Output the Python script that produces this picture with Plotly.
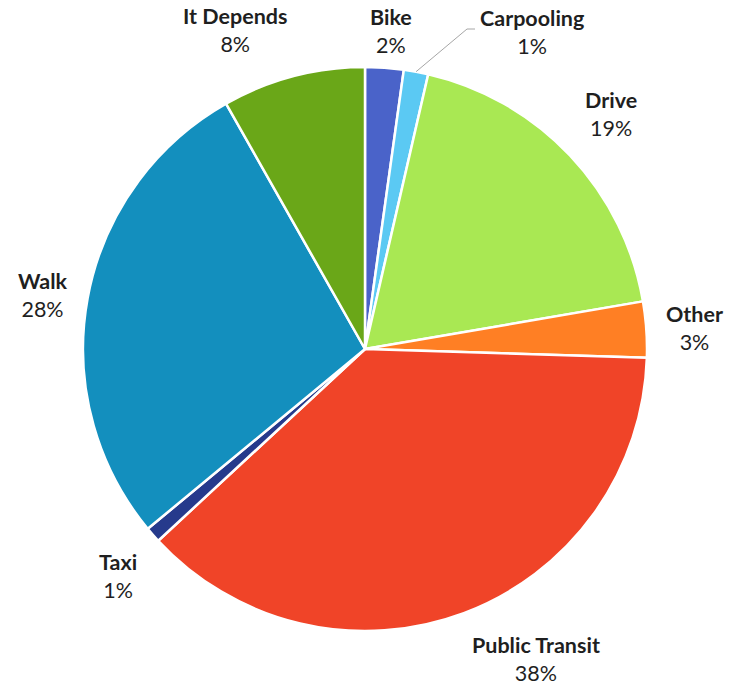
import math
import plotly.graph_objects as go

categories = ["Bike", "Carpooling", "Drive", "Other", "Public Transit", "Taxi", "Walk", "It Depends"]
values = [2.2, 1.4, 18.7, 3.2, 37.6, 0.9, 27.8, 8.2]
colors = ["#4A63C9", "#5BC9F3", "#A9E853", "#FF7F24", "#F04428", "#263A8C", "#138FBE", "#6AA718"]

W, H = 729, 686
ML, MR, MT, MB = 83, 82, 67, 55
PW = W - ML - MR  # pie diameter in px
R = PW / 2

fig = go.Figure(go.Pie(
    labels=categories, values=values, sort=False, direction="clockwise",
    rotation=0, textinfo="none", hoverinfo="label+percent",
    marker=dict(colors=colors, line=dict(color="white", width=2.5)),
    showlegend=False,
))

def px_to_paper(px, py):
    return (px - ML) / PW, 1 - (py - MT) / (H - MT - MB)

cx, cy = ML + R, MT + R
total = sum(values)
annotations = []
shapes = []
cum = 0.0
font = dict(family="Lato, 'Open Sans', sans-serif", size=21.5, color="#1f1f1f")
for name, v in zip(categories, values):
    mid = (cum + v / 2) / total * 2 * math.pi
    cum += v
    pct = round(v / total * 100)
    text = f"<b>{name}</b><br>{pct}%"
    s, c = math.sin(mid), math.cos(mid)
    if name == "Carpooling":
        sx, sy = cx + R * s, cy - R * c
        ex, ey = cx + 102, cy - 320
        hx = ex + 8
        p1 = px_to_paper(sx, sy); p2 = px_to_paper(ex, ey); p3 = px_to_paper(hx, ey)
        shapes.append(dict(type="path", xref="paper", yref="paper",
                           path=f"M {p1[0]} {p1[1]} L {p2[0]} {p2[1]} L {p3[0]} {p3[1]}",
                           line=dict(color="#A6A6A6", width=1)))
        ax, ay = px_to_paper(hx + 3, ey + 3)
        annotations.append(dict(x=ax, y=ay, xref="paper", yref="paper", text=text,
                                showarrow=False, xanchor="left", yanchor="middle", font=font))
        continue
    xa = "center" if abs(s) < 0.15 else ("left" if s > 0 else "right")
    ya = "middle" if abs(c) < 0.3 else ("bottom" if c > 0 else "top")
    rl = 290 if xa == "center" else 300
    lx, ly = cx + rl * s, cy - rl * c
    if xa == "center":
        lx += 6
    ax, ay = px_to_paper(lx, ly)
    annotations.append(dict(x=ax, y=ay, xref="paper", yref="paper", text=text,
                            showarrow=False, xanchor=xa, yanchor=ya, font=font))

fig.update_layout(
    width=W, height=H,
    margin=dict(l=ML, r=MR, t=MT, b=MB),
    paper_bgcolor="white", plot_bgcolor="white",
    annotations=annotations, shapes=shapes,
)
fig.write_html("out.html")
